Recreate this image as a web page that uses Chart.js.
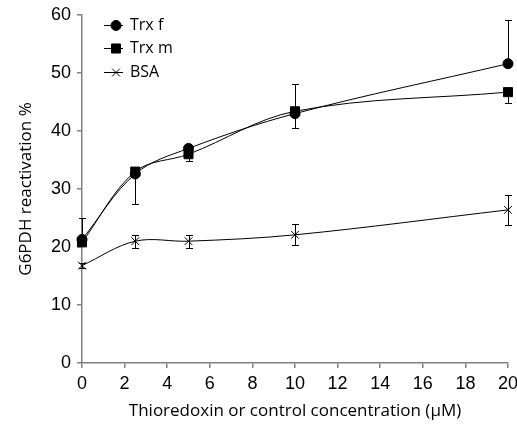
<!DOCTYPE html>
<html>
<head>
<meta charset="utf-8">
<script src="https://cdn.jsdelivr.net/npm/chart.js@4.4.0/dist/chart.umd.min.js"></script>
<style>
  html, body { margin: 0; padding: 0; background: #fff; }
  #wrap { width: 517px; height: 437px; position: relative; }
</style>
</head>
<body>
<div id="wrap"><canvas id="chart"></canvas></div>
<script>
// concentrations (µM)
const concentrations = [0, 2.5, 5, 10, 20];

// G6PDH reactivation % per series
const trxF = [21.3, 32.6, 37.0, 43.0, 51.6];
const trxM = [20.8, 33.0, 36.0, 43.4, 46.7];
const bsa = [16.8, 21.0, 21.0, 22.1, 26.4];

// error bar ends (null = not drawn)
const trxFLow = [null, 27.4, null, null, null];
const trxFHigh = [25.0, null, null, 48.1, 59.1];
const trxMLow = [null, null, 34.9, 40.5, 44.8];
const trxMHigh = [null, null, null, null, null];
const bsaLow = [16.3, 19.9, 19.9, 20.3, 23.8];
const bsaHigh = [17.3, 22.1, 22.1, 23.9, 29.0];

const xTicks = [0, 2, 4, 6, 8, 10, 12, 14, 16, 18, 20];
const yTicks = [0, 10, 20, 30, 40, 50, 60];

const axisGray = '#808080';
const tickFont = { family: '"Liberation Sans", Arial, sans-serif', size: 18 };
const titleFont = { family: '"Open Sans", sans-serif', size: 17 };

const toPoints = (ys) => concentrations.map((x, i) => ({ x: x, y: ys[i] }));

function series(label, ys, low, high, style, radius) {
  return {
    label: label,
    data: toPoints(ys),
    errLow: low,
    errHigh: high,
    borderColor: '#000',
    backgroundColor: '#000',
    borderWidth: 1,
    pointStyle: style,
    pointRadius: radius,
    pointBorderWidth: 1,
    pointBorderColor: '#000',
    pointBackgroundColor: '#000',
    tension: 0.35,
    clip: false
  };
}

// error bars drawn from the per-point low/high values
const errorBars = {
  id: 'errorBars',
  afterDatasetsDraw(chart) {
    const ctx = chart.ctx;
    const xs = chart.scales.x, ys = chart.scales.y;
    ctx.save();
    ctx.strokeStyle = '#000';
    ctx.lineWidth = 1;
    chart.data.datasets.forEach(ds => {
      ds.data.forEach((p, i) => {
        const px = Math.round(xs.getPixelForValue(p.x)) + 0.5;
        const py = ys.getPixelForValue(p.y);
        [ds.errLow[i], ds.errHigh[i]].forEach(v => {
          if (v === null) return;
          const ey = Math.round(ys.getPixelForValue(v)) + 0.5;
          ctx.beginPath();
          ctx.moveTo(px, py);
          ctx.lineTo(px, ey);
          ctx.moveTo(px - 3.5, ey);
          ctx.lineTo(px + 3.5, ey);
          ctx.stroke();
        });
      });
    });
    ctx.restore();
  }
};

// legend in the upper left of the plot: line with marker, then label
const insetLegend = {
  id: 'insetLegend',
  afterDraw(chart) {
    const ctx = chart.ctx;
    const rowsY = [25, 48, 72];
    ctx.save();
    chart.data.datasets.forEach((ds, i) => {
      const y = rowsY[i];
      ctx.strokeStyle = '#000';
      ctx.lineWidth = 1;
      ctx.beginPath();
      ctx.moveTo(104, y + 0.5);
      ctx.lineTo(123, y + 0.5);
      ctx.stroke();
      ctx.fillStyle = '#000';
      Chart.helpers.drawPoint(ctx, {
        pointStyle: ds.pointStyle, radius: ds.pointRadius, borderWidth: 1, rotation: 0
      }, 116, y + 0.5);
      ctx.fillStyle = '#000';
      ctx.font = '16px "Open Sans", sans-serif';
      ctx.textBaseline = 'middle';
      ctx.fillText(ds.label, 130, y);
    });
    ctx.restore();
  }
};

new Chart(document.getElementById('chart'), {
  type: 'line',
  data: {
    datasets: [
      series('Trx f', trxF, trxFLow, trxFHigh, 'circle', 5),
      series('Trx m', trxM, trxMLow, trxMHigh, 'rect', 6.4),
      series('BSA', bsa, bsaLow, bsaHigh, 'crossRot', 5.5)
    ]
  },
  options: {
    responsive: true,
    maintainAspectRatio: false,
    animation: false,
    layout: { padding: { left: 0, right: 9, top: 15, bottom: 0 } },
    plugins: { legend: { display: false }, tooltip: { enabled: false } },
    scales: {
      x: {
        type: 'linear',
        min: 0,
        max: 20,
        afterBuildTicks: (s) => { s.ticks = xTicks.map(v => ({ value: v })); },
        afterFit: (s) => { s.height = 74; s.paddingLeft = 0; s.paddingRight = 0; },
        ticks: { color: '#000', font: tickFont, padding: 5, maxRotation: 0, autoSkip: false },
        grid: { drawOnChartArea: false, drawTicks: true, tickLength: 5, color: axisGray, lineWidth: 1.5 },
        border: { color: axisGray, width: 1.5 },
        title: {
          display: true,
          text: 'Thioredoxin or control concentration (µM)',
          color: '#000',
          font: titleFont,
          padding: { top: 0, bottom: 16 }
        }
      },
      y: {
        min: 0,
        max: 60,
        afterBuildTicks: (s) => { s.ticks = yTicks.map(v => ({ value: v })); },
        afterFit: (s) => { s.width = 82; s.paddingTop = 0; s.paddingBottom = 0; },
        ticks: { color: '#000', font: tickFont, padding: 6 },
        grid: { drawOnChartArea: false, drawTicks: true, tickLength: 5, color: axisGray, lineWidth: 1.5 },
        border: { color: axisGray, width: 1.5 },
        title: {
          display: true,
          text: 'G6PDH reactivation %',
          color: '#000',
          font: titleFont,
          padding: { top: 16, bottom: 0 }
        }
      }
    }
  },
  plugins: [errorBars, insetLegend]
});
</script>
</body>
</html>
